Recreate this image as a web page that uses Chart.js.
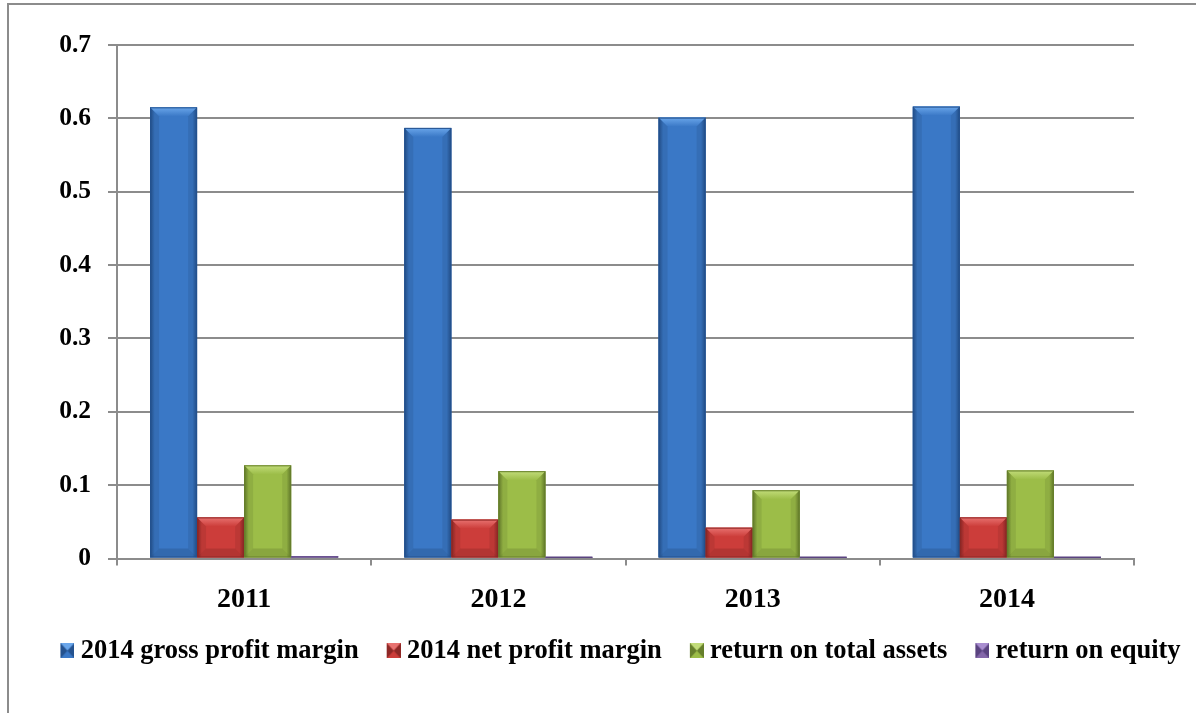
<!DOCTYPE html>
<html>
<head>
<meta charset="utf-8">
<title>Profitability ratios 2011-2014</title>
<script src="https://cdn.jsdelivr.net/npm/chart.js@4"></script>
<style>
  html, body { margin: 0; padding: 0; background: #fff; overflow: hidden; }
  #frame {
    position: absolute; left: 7px; top: 3px; width: 1400px; height: 900px;
    border-left: 2px solid #8c8c8c; border-top: 2px solid #8c8c8c;
  }
  #wrap { position: absolute; left: 0; top: 0; width: 1241px; height: 713px; }
</style>
</head>
<body>
<div id="frame"></div>
<div id="wrap"><canvas id="chart"></canvas></div>
<script>
// Years on the x axis
const years = ['2011', '2012', '2013', '2014'];

// Ratio values per year
const grossMargin = [0.615, 0.587, 0.601, 0.616];
const netMargin = [0.056, 0.053, 0.042, 0.056];
const returnOnAssets = [0.127, 0.119, 0.093, 0.120];
const returnOnEquity = [0.003, 0.002, 0.002, 0.002];

const seriesNames = ['2014 gross profit margin', '2014 net profit margin', 'return on total assets', 'return on equity'];
const yTickLabels = ['0', '0.1', '0.2', '0.3', '0.4', '0.5', '0.6', '0.7'];

// Shades for each series: dark edge, body, light top
const palette = [
    { dark: '#24528f', body: '#3a78c6', light: '#6aa6ea' },
    { dark: '#8e2826', body: '#cc3d3a', light: '#e87270' },
    { dark: '#667f2c', body: '#9cbd48', light: '#c2dc7a' },
    { dark: '#5a4380', body: '#8467aa', light: '#a98ed0' }
];

const gridColor = '#8c8c8c';
const serif = "'Liberation Serif', 'Times New Roman', serif";

// Small bevelled legend icons (transparent left part shifts the icon right)
function makeIcon(c) {
    const cv = document.createElement('canvas');
    cv.width = 21; cv.height = 15;
    const g = cv.getContext('2d');
    const x0 = 7, w = 14, h = 15;
    g.fillStyle = c.body;
    g.fillRect(x0, 0, w, h);
    g.fillStyle = c.light;
    g.beginPath(); g.moveTo(x0, 0); g.lineTo(x0 + w, 0); g.lineTo(x0 + w / 2, h / 2); g.closePath(); g.fill();
    g.fillStyle = c.dark;
    g.beginPath(); g.moveTo(x0, 0); g.lineTo(x0 + w / 2, h / 2); g.lineTo(x0, h); g.closePath(); g.fill();
    g.beginPath(); g.moveTo(x0 + w, 0); g.lineTo(x0 + w / 2, h / 2); g.lineTo(x0 + w, h); g.closePath(); g.fill();
    return cv;
}
const icons = palette.map(makeIcon);

// Paints each bar with a bevelled look over the plain fill
const bevelPlugin = {
    id: 'bevel',
    afterDatasetsDraw(chart) {
        const ctx = chart.ctx;
        chart.data.datasets.forEach((ds, di) => {
            const meta = chart.getDatasetMeta(di);
            const c = palette[di];
            meta.data.forEach(bar => {
                const left = bar.x - bar.width / 2;
                const right = bar.x + bar.width / 2;
                const top = Math.min(bar.y, bar.base);
                const bottom = Math.max(bar.y, bar.base);
                const w = right - left, h = bottom - top;
                if (h <= 0) return;
                const b = Math.min(9, h / 2, w / 4);
                ctx.save();
                const hg = ctx.createLinearGradient(left, 0, right, 0);
                hg.addColorStop(0, c.dark);
                hg.addColorStop(0.1, c.body);
                hg.addColorStop(0.5, c.body);
                hg.addColorStop(0.9, c.body);
                hg.addColorStop(1, c.dark);
                ctx.fillStyle = hg;
                ctx.fillRect(left, top, w, h);
                // top bevel
                const vg = ctx.createLinearGradient(0, top, 0, top + b);
                vg.addColorStop(0, c.light);
                vg.addColorStop(1, c.body);
                ctx.fillStyle = vg;
                ctx.beginPath();
                ctx.moveTo(left, top); ctx.lineTo(right, top);
                ctx.lineTo(right - b, top + b); ctx.lineTo(left + b, top + b);
                ctx.closePath(); ctx.fill();
                // side bevels
                ctx.fillStyle = 'rgba(0,0,0,0.08)';
                ctx.beginPath();
                ctx.moveTo(left, top); ctx.lineTo(left + b, top + b);
                ctx.lineTo(left + b, bottom - b); ctx.lineTo(left, bottom);
                ctx.closePath(); ctx.fill();
                ctx.beginPath();
                ctx.moveTo(right, top); ctx.lineTo(right - b, top + b);
                ctx.lineTo(right - b, bottom - b); ctx.lineTo(right, bottom);
                ctx.closePath(); ctx.fill();
                // bottom bevel
                ctx.fillStyle = 'rgba(0,0,0,0.12)';
                ctx.beginPath();
                ctx.moveTo(left, bottom); ctx.lineTo(right, bottom);
                ctx.lineTo(right - b, bottom - b); ctx.lineTo(left + b, bottom - b);
                ctx.closePath(); ctx.fill();
                ctx.strokeStyle = c.dark;
                ctx.lineWidth = 1;
                ctx.strokeRect(left + 0.5, top + 0.5, w - 1, h - 1);
                ctx.restore();
            });
        });
    }
};

const allSeries = [grossMargin, netMargin, returnOnAssets, returnOnEquity];

new Chart(document.getElementById('chart'), {
    type: 'bar',
    data: {
        labels: years,
        datasets: allSeries.map((vals, i) => ({
            label: seriesNames[i],
            data: vals,
            backgroundColor: palette[i].body,
            borderWidth: 0,
            categoryPercentage: 0.74,
            barPercentage: 1
        }))
    },
    options: {
        responsive: true,
        maintainAspectRatio: false,
        animation: false,
        layout: { padding: { top: 45, bottom: 39, left: 0, right: 0 } },
        plugins: {
            tooltip: { enabled: false },
            legend: {
                position: 'bottom',
                labels: {
                    usePointStyle: true,
                    boxWidth: 7,
                    padding: 28,
                    color: '#000',
                    font: { family: serif, size: 26.5, weight: 'bold' },
                    generateLabels(chart) {
                        const items = Chart.defaults.plugins.legend.labels.generateLabels(chart);
                        items.forEach((it, i) => { it.pointStyle = icons[i]; });
                        return items;
                    }
                }
            }
        },
        scales: {
            x: {
                grid: { drawOnChartArea: false, color: gridColor, lineWidth: 2, tickLength: 7 },
                border: { color: gridColor, width: 2 },
                ticks: { color: '#000', padding: 17, font: { family: serif, size: 28, weight: 'bold' } },
                afterFit(s) { s.height = 51; }
            },
            y: {
                min: 0,
                max: 0.7,
                ticks: {
                    stepSize: 0.1,
                    padding: 17,
                    color: '#000',
                    font: { family: serif, size: 25.5, weight: 'bold' },
                    callback: (v, i) => yTickLabels[i]
                },
                grid: { color: gridColor, lineWidth: 2, tickLength: 9 },
                border: { color: gridColor, width: 2 },
                afterFit(s) { s.width = 117; }
            },
            // empty right-hand spacer so the plot ends where the legend is centred
            spacer: {
                type: 'linear',
                position: 'right',
                min: 0,
                max: 1,
                grid: { display: false },
                border: { display: false },
                ticks: { display: false },
                afterFit(s) { s.width = 107; }
            }
        }
    },
    plugins: [bevelPlugin]
});
</script>
</body>
</html>
